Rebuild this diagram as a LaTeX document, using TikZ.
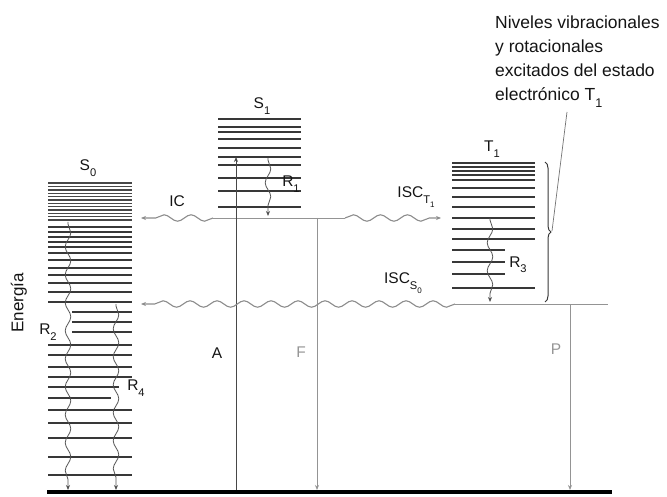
\documentclass[tikz,border=0pt]{standalone}
\usepackage{fontspec}
\setmainfont{Liberation Sans}
\usetikzlibrary{arrows.meta,decorations.pathmorphing,decorations.pathreplacing}
\newcommand\lsub[1]{\raisebox{-0.35em}{\scalebox{0.72}{#1}}}
\begin{document}
\begin{tikzpicture}[x=1pt,y=-1pt,
  lvl/.style={line width=1.4pt, draw=black!78},
  dense/.style={line width=1.15pt, draw=black!72},
  thinl/.style={line width=0.9pt, draw=black!72},
  greyl/.style={line width=0.9pt, draw=black!42},
  tip/.style={-{Stealth[length=5pt,width=4pt]}},
  wavyg/.style={line width=1.1pt, draw=black!45, decorate,
     decoration={snake, amplitude=3.2pt, segment length=27pt, post length=5pt}},
  wavyr/.style={line width=0.8pt, draw=black!68, decorate,
     decoration={snake, amplitude=2.8pt, segment length=28pt, pre length=2pt, post length=5pt}},
  lab/.style={font=\fontsize{15.5}{17}\selectfont, inner sep=0pt, text=black!92},
  glab/.style={lab, text=black!42},
  note/.style={font=\fontsize{17.5}{24}\selectfont, inner sep=0pt, align=left, text=black!92}
]
\useasboundingbox (0,0) rectangle (667,497);

% ---- S0 levels
\foreach \y in {183,186.5,190,193.3,196.6,200,203.3,206.6,210,213.3,216.6,220}
  \draw[dense] (48,\y) -- (132,\y);
\foreach \y in {227,232,237,242,247,253,260,268,275,283,292,302,345,355,367,377,410,423,438,457,475}
  \draw[lvl] (48,\y) -- (132,\y);
\foreach \y in {312,322,332}
  \draw[lvl] (72,\y) -- (132,\y);
\draw[lvl] (48,387) -- (119,387);
\draw[lvl] (48,398) -- (111,398);

% ---- S1 levels
\foreach \y in {119,127,132,139,148,157,165,178,191,207}
  \draw[lvl] (218,\y) -- (301,\y);

% ---- T1 levels
\foreach \y in {163,167,171,175,180,188,197,207,218,229,239,288}
  \draw[lvl] (452,\y) -- (535,\y);
\foreach \y in {250,262,274}
  \draw[lvl] (452,\y) -- (505,\y);

% ---- labels
\node[lab] (S0) at (88,168) {S\lsub{0}};
\node[lab] (S1) at (262,106) {S\lsub{1}};
\node[lab] (T1) at (492,149) {T\lsub{1}};
\node[lab] (IC) at (177,201) {IC};
\node[lab] (R1) at (291,184) {R\lsub{1}};
\node[lab] (ISCT) at (416,197) {ISC\lsub{T\lsub{1}}};
\node[lab] (ISCS) at (403,283) {ISC\lsub{S\lsub{0}}};
\node[lab] (R3) at (518,265) {R\lsub{3}};
\node[lab] (R2) at (48,332) {R\lsub{2}};
\node[lab] (R4) at (136,388) {R\lsub{4}};
\node[lab] (A) at (217,353) {A};
\node[glab] (F) at (301,352) {F};
\node[glab] (P) at (556,349) {P};
\node[lab, rotate=90, font=\fontsize{17}{19}\selectfont] (En) at (19,303) {Energía};
\node[note, anchor=north west] (note) at (495,16)
  {Niveles vibracionales\\y rotacionales\\excitados del estado\\electrónico T\lsub{1}};

% ---- key points
\coordinate (s1gW) at (213,218);
\coordinate (s1gE) at (345,218);
\coordinate (icEnd) at (141,218);
\coordinate (t1In) at (441,218);
\coordinate (aBot) at (236,492);
\coordinate (aTop) at (236,157);
\coordinate (fTop) at (317,218);
\coordinate (fBot) at (317,490);
\coordinate (r1Top) at (268,158);
\coordinate (r1Bot) at (268,216);
\coordinate (t1gW) at (455,304);
\coordinate (t1gE) at (608,304);
\coordinate (s0In) at (141,304);
\coordinate (pTop) at (570,304);
\coordinate (pBot) at (570,490);
\coordinate (r3Top) at (490,218);
\coordinate (r3Bot) at (490,302);
\coordinate (r2Top) at (68,222);
\coordinate (r2Bot) at (68,490);
\coordinate (r4Top) at (116,304);
\coordinate (r4Bot) at (116,490);
\coordinate (gW) at (47,492);
\coordinate (gE) at (612,492);
\coordinate (brT) at (545,162);
\coordinate (brB) at (545,302);
\coordinate (brTip) at (552,231);
\coordinate (ptr) at (567,112);

% ---- connectors
\draw[greyl] (s1gW) -- (s1gE);
\draw[wavyg, tip] (s1gW) -- (icEnd);
\draw[wavyg, tip] (s1gE) -- (t1In);
\draw[thinl, tip] (aBot) -- (aTop);
\draw[greyl, tip] (fTop) -- (fBot);
\draw[wavyr, tip] (r1Top) -- (r1Bot);
\draw[greyl] (t1gW) -- (t1gE);
\draw[wavyg, tip] (t1gW) -- (s0In);
\draw[greyl, tip] (pTop) -- (pBot);
\draw[wavyr, tip] (r3Top) -- (r3Bot);
\draw[wavyr, tip] (r2Top) -- (r2Bot);
\draw[wavyr, tip] (r4Top) -- (r4Bot);
\draw[line width=4pt, black] (gW) -- (gE);
\draw[line width=1pt, black!78, decorate, decoration={brace, amplitude=6pt}] (brT) -- (brB);
\draw[line width=0.7pt, black!55] (brTip) -- (ptr);
\end{tikzpicture}
\end{document}
